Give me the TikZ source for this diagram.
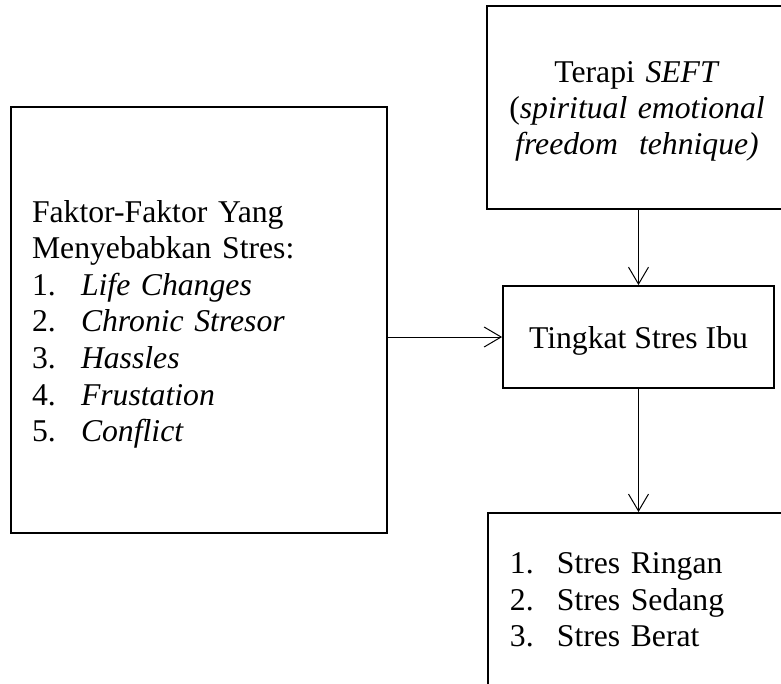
\documentclass[tikz,border=0pt]{standalone}
\usepackage{fontspec}
\setmainfont{Liberation Serif}
\usetikzlibrary{arrows.meta}
\newcommand{\numitem}[2]{\makebox[#1][l]{#2}}
\begin{document}
\begin{tikzpicture}[x=1pt,y=-1pt,
  box/.style={draw=black, line width=1.8pt, font=\fontsize{31.7}{36.6}\selectfont},
  arr/.style={draw=black, line width=1pt, -{Straight Barb[length=17pt,width=20pt]}}]
\useasboundingbox (0,0) rectangle (781,683);
\clip (0,0) rectangle (781,683);

\node[box, align=left, text width=334pt, inner xsep=21pt, inner ysep=0pt, minimum height=426pt] (fak) at (199,320)
  {\rule{0pt}{30.6pt}Faktor-Faktor Yang\\
   Menyebabkan Stres:\\
   \numitem{49pt}{1.}\textit{Life Changes}\\
   \numitem{49pt}{2.}\textit{Chronic Stresor}\\
   \numitem{49pt}{3.}\textit{Hassles}\\
   \numitem{49pt}{4.}\textit{Frustation}\\
   \numitem{49pt}{5.}\textit{Conflict}};

\node[box, align=center, text width=290pt, inner xsep=5pt, inner ysep=0pt, minimum height=203pt,
      font=\fontsize{31.7}{36}\selectfont] (seft) at (637,107.5)
  {\rule{0pt}{29.6pt}Terapi \textit{SEFT}\\
   (\textit{spiritual emotional}\\
   \textit{freedom\ \ tehnique)}};

\node[box, minimum width=271pt, minimum height=102pt, inner sep=0pt, text height=28pt, text depth=6pt] (mid) at (638.5,337)
  {Tingkat Stres Ibu};

\node[box, anchor=north west, align=left, text width=360pt, inner xsep=22pt, inner ysep=39pt] (hasil) at (487,512)
  {\rule{0pt}{21.7pt}\numitem{47pt}{1.}Stres Ringan\\
   \numitem{47pt}{2.}Stres Sedang\\
   \numitem{47pt}{3.}Stres Berat\rule[-12pt]{0pt}{12pt}};

\draw[arr] (seft.south -| mid.north) -- (mid.north);
\draw[arr] (fak.east |- mid.west) -- (mid.west);
\draw[arr] (mid.south) -- (mid.south |- hasil.north);
\end{tikzpicture}
\end{document}
